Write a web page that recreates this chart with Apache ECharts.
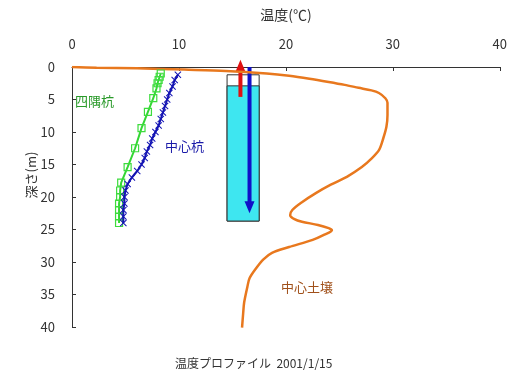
<!DOCTYPE html>
<html><head><meta charset="utf-8">
<script src="https://cdn.jsdelivr.net/npm/echarts@6/dist/echarts.min.js"></script>
<style>html,body{margin:0;padding:0;background:#fff}#c{width:510px;height:376px}</style>
</head><body><div id="c"></div>
<script>
// Axis ticks
var xTicks = [0, 10, 20, 30, 40];
var yTicks = [0, 5, 10, 15, 20, 25, 30, 35, 40];

// 中心土壌 (soil at center): temperature, depth
var soilTemp  = [0, 2.3, 6.1, 10.5, 14.4, 18.2, 20.3, 22.2, 24.0, 25.5, 26.8, 28.0, 28.7, 29.3, 29.5, 29.5, 29.4, 29.1, 28.7, 28.0, 27.1, 25.7, 24.2, 22.8, 21.5, 20.6, 20.4, 20.8, 21.5, 23.0, 24.0, 24.3, 23.6, 22.5, 20.3, 18.7, 17.9, 17.2, 16.6, 16.4, 16.1, 16.0, 15.9];
var soilDepth = [0, 0.1, 0.2, 0.4, 0.6, 1.0, 1.35, 1.8, 2.3, 2.75, 3.2, 3.6, 4.0, 4.8, 5.5, 7.4, 9.2, 11.0, 12.8, 14.1, 15.4, 16.9, 18.1, 19.4, 20.8, 22.0, 22.8, 23.4, 23.8, 24.3, 24.8, 25.1, 25.8, 26.6, 27.7, 28.6, 29.6, 31.0, 32.5, 33.8, 36.2, 38.0, 40.1];

// 中心杭 (center pile)
var centerDepth = [1.2, 2, 3, 4, 5, 6, 7, 8, 9, 10, 11, 12, 13, 14, 15, 16, 17, 18, 19, 20, 21, 22, 23, 24];
var centerTemp  = [9.9, 9.6, 9.4, 9.1, 8.9, 8.7, 8.5, 8.3, 8.1, 7.8, 7.5, 7.3, 7.0, 6.8, 6.5, 6.1, 5.6, 5.2, 5.0, 4.9, 4.9, 4.8, 4.8, 4.8];

// 四隅杭 (corner piles)
var cornerDepth = [1.0, 1.5, 2.0, 2.5, 3.3, 4.8, 6.9, 9.4, 12.5, 15.4, 17.8, 19.0, 20.0, 21.0, 22.0, 23.0, 24.0];
var cornerTemp  = [8.3, 8.2, 8.1, 8.0, 7.9, 7.6, 7.1, 6.5, 5.9, 5.2, 4.6, 4.5, 4.5, 4.4, 4.4, 4.4, 4.4];

// Pile sketch (temperature range, depth range) and arrows
var pileX = [14.5, 17.5];
var pileDepth = [1.2, 2.9, 23.7];   // top, fill start, bottom
var redArrow  = [15.75, 4.6, -1.1]; // x, from depth, to depth
var blueArrow = [16.6, 0.0, 22.5];

function zip(a, b) { return a.map(function (v, i) { return [v, b[i]]; }); }

var chart = echarts.init(document.getElementById('c'));
var FONT = '"Noto Sans CJK JP", "Noto Sans", sans-serif';
var crossPath = 'path://M0,1L1,0L5,4L9,0L10,1L6,5L10,9L9,10L5,6L1,10L0,9L4,5Z';

chart.setOption({
  animation: false,
  grid: { left: 72, top: 67, width: 429, height: 260 },
  xAxis: {
    type: 'value', position: 'top', min: xTicks[0], max: xTicks[xTicks.length - 1], interval: 10,
    name: '温度(℃)', nameLocation: 'middle', nameGap: 45,
    nameTextStyle: { fontFamily: FONT, fontSize: 14, color: '#333' },
    axisLine: { lineStyle: { color: '#333', width: 1 } },
    axisTick: { inside: true, length: 4, lineStyle: { color: '#333' } },
    axisLabel: { margin: 16, fontFamily: FONT, fontSize: 13, color: '#333' },
    splitLine: { show: false }
  },
  yAxis: {
    type: 'value', inverse: true, min: yTicks[0], max: yTicks[yTicks.length - 1], interval: 5,
    axisLine: { show: true, lineStyle: { color: '#333', width: 1 } },
    axisTick: { show: true, inside: true, length: 4, lineStyle: { color: '#333' } },
    axisLabel: { margin: 17, fontFamily: FONT, fontSize: 13, color: '#333' },
    splitLine: { show: false }
  },
  graphic: [
    { type: 'text', left: 75, top: 95, style: { text: '四隅杭', font: '13px ' + FONT, fill: '#2a9a2a' } },
    { type: 'text', left: 165, top: 140, style: { text: '中心杭', font: '13px ' + FONT, fill: '#1a1aa8' } },
    { type: 'text', left: 281, top: 281, style: { text: '中心土壌', font: '13px ' + FONT, fill: '#a0501a' } },
    { type: 'text', x: 31, y: 175, rotation: Math.PI / 2, style: { text: '深さ(m)', font: '13px ' + FONT, fill: '#333', align: 'center', verticalAlign: 'middle' } },
    { type: 'text', left: 175, top: 357, style: { text: '温度プロファイル  2001/1/15', font: '12px ' + FONT, fill: '#333' } }
  ],
  series: [
    {
      type: 'custom', z: 1, clip: false,
      data: [[0]],
      renderItem: function (params, api) {
        var tl = api.coord([pileX[0], pileDepth[0]]);
        var fl = api.coord([pileX[0], pileDepth[1]]);
        var br = api.coord([pileX[1], pileDepth[2]]);
        var r0 = api.coord([redArrow[0], redArrow[1]]);
        var r1 = api.coord([redArrow[0], redArrow[2]]);
        var b0 = api.coord([blueArrow[0], blueArrow[1]]);
        var b1 = api.coord([blueArrow[0], blueArrow[2]]);
        var hw = 5, hl = 12;
        return {
          type: 'group',
          children: [
            { type: 'rect', shape: { x: tl[0], y: tl[1], width: br[0] - tl[0], height: br[1] - tl[1] }, style: { fill: '#fff', stroke: '#333', lineWidth: 1 } },
            { type: 'rect', shape: { x: fl[0], y: fl[1], width: br[0] - fl[0], height: br[1] - fl[1] }, style: { fill: '#3ee6f0', stroke: '#333', lineWidth: 1 } },
            { type: 'line', shape: { x1: r0[0], y1: r0[1], x2: r1[0], y2: r1[1] + hl - 1 }, style: { stroke: '#e01010', lineWidth: 4 } },
            { type: 'polygon', shape: { points: [[r1[0] - hw, r1[1] + hl], [r1[0] + hw, r1[1] + hl], [r1[0], r1[1]]] }, style: { fill: '#e01010' } },
            { type: 'line', shape: { x1: b0[0], y1: b0[1], x2: b1[0], y2: b1[1] - hl + 1 }, style: { stroke: '#1010c8', lineWidth: 4 } },
            { type: 'polygon', shape: { points: [[b1[0] - hw, b1[1] - hl], [b1[0] + hw, b1[1] - hl], [b1[0], b1[1]]] }, style: { fill: '#1010c8' } }
          ]
        };
      }
    },
    {
      name: '中心土壌', type: 'line', z: 3, smooth: 0.3, showSymbol: false, symbol: 'none',
      data: zip(soilTemp, soilDepth),
      lineStyle: { color: '#e8781e', width: 2.5 }
    },
    {
      name: '四隅杭', type: 'line', z: 4, symbol: 'rect', symbolSize: 7,
      data: zip(cornerTemp, cornerDepth),
      lineStyle: { color: '#33d633', width: 2 },
      itemStyle: { color: 'rgba(255,255,255,0)', borderColor: '#3ddc3d', borderWidth: 1.2 }
    },
    {
      name: '中心杭', type: 'line', z: 5, symbol: crossPath, symbolSize: 7,
      data: zip(centerTemp, centerDepth),
      lineStyle: { color: '#1414b4', width: 2 },
      itemStyle: { color: '#1414b4' }
    }
  ]
});
</script></body></html>
